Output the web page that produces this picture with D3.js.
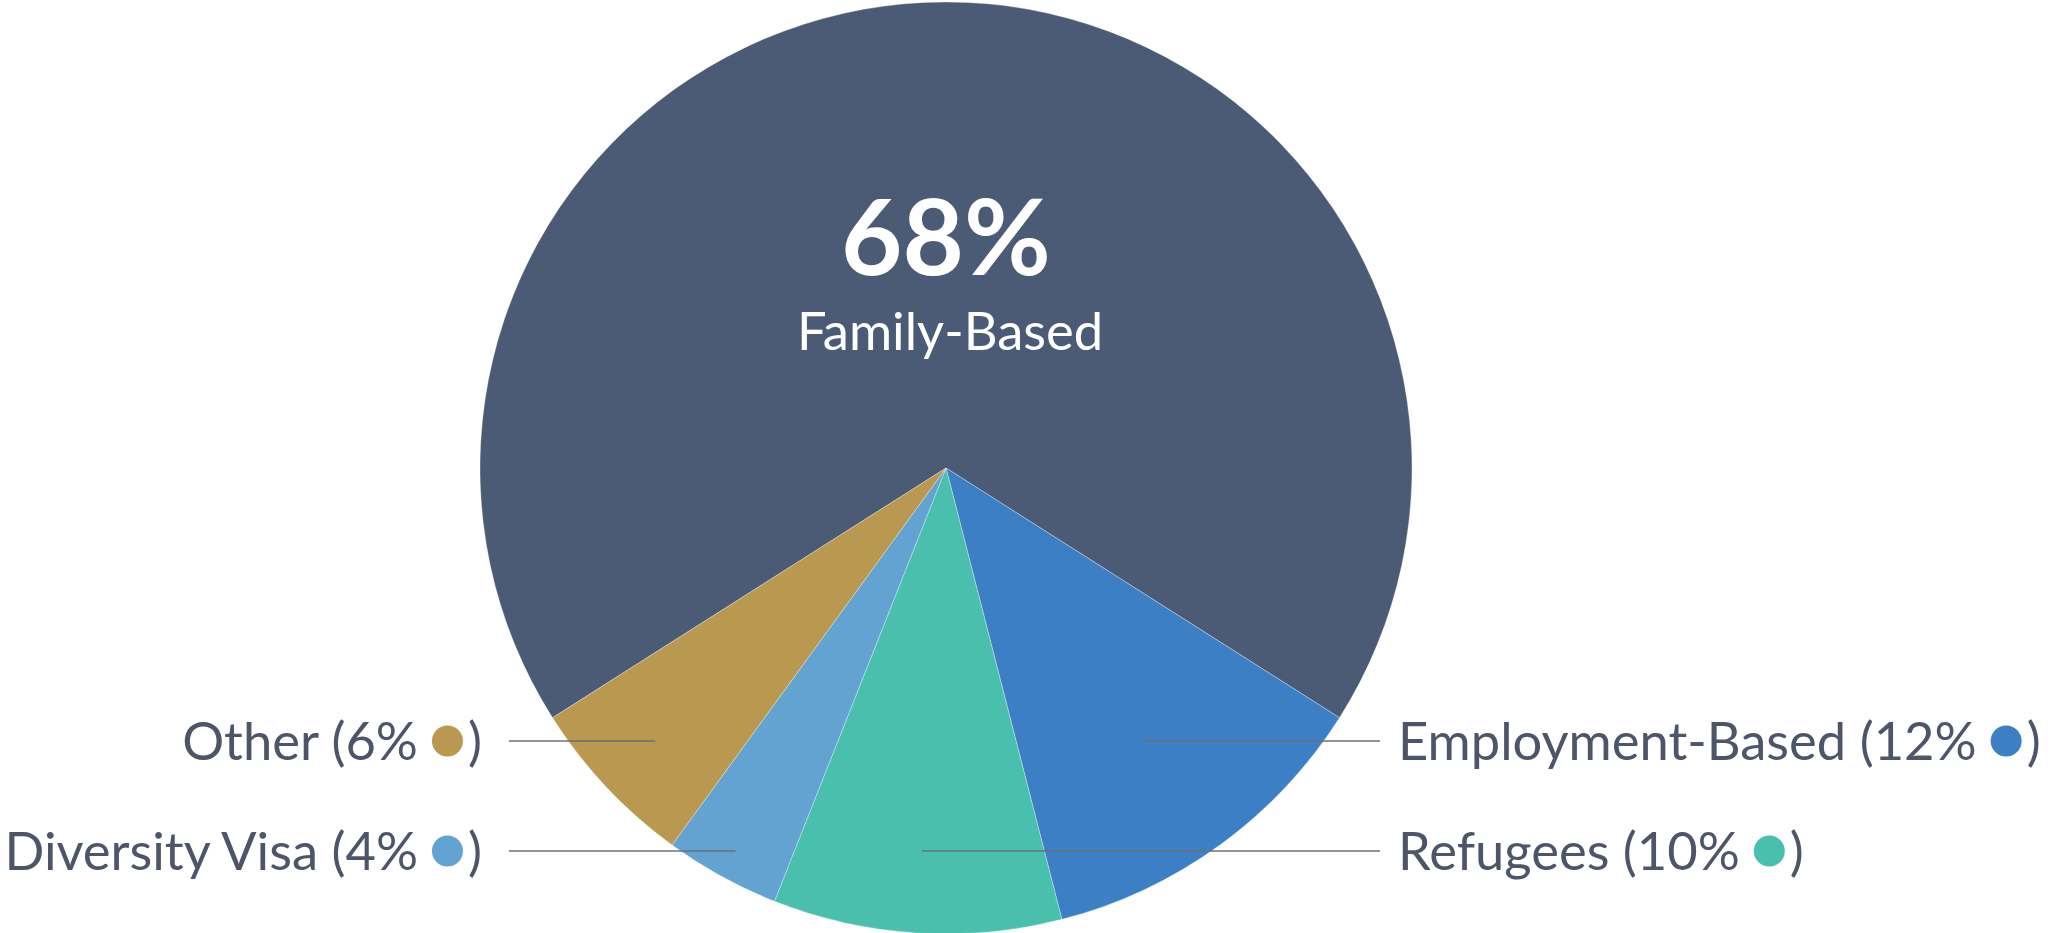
<!DOCTYPE html>
<html>
<head>
<meta charset="utf-8">
<script src="https://cdn.jsdelivr.net/npm/d3@7"></script>
<style>
  body { margin: 0; background: #fff; }
  svg { display: block; }
</style>
</head>
<body>
<div id="pie"></div>
<script>
// Data
var categories = ["Family-Based", "Employment-Based", "Refugees", "Diversity Visa", "Other"];
var shares = [68, 12, 10, 4, 6];
var colors = ["#4b5a75", "#3d7fc4", "#4bbfae", "#62a3d2", "#b8994f"];
// which side each outside label goes on (Family-Based sits inside the pie)
var labelSide = [null, "right", "right", "left", "left"];

var width = 2053,
    height = 933;

var cx = 946,
    cy = 468,
    radius = 466;

var rowY = [741, 851],
    leftEnd = 482,
    rightStart = 1398,
    lineLeftX = 509,
    lineRightX = 1380;

var textColor = "#4d5668";
var font = "Lato, 'Open Sans', sans-serif";
var labelSize = "52.5px";

var data = categories.map(function(c, i) {
  return {name: c, value: shares[i], color: colors[i], side: labelSide[i]};
});

var svg = d3.select("#pie")
            .append("svg")
              .attr("width", width)
              .attr("height", height);

var g = svg.append("g")
           .attr("transform", "translate(" + cx + "," + cy + ")");

// Family-Based is centred on the top of the circle
var start = -Math.PI * shares[0] / 100;
var pie = d3.pie()
            .sort(null)
            .value(function(d) { return d.value; })
            .startAngle(start)
            .endAngle(start + 2 * Math.PI);

var arc = d3.arc()
            .innerRadius(0)
            .outerRadius(radius);

var arcs = pie(data);

g.selectAll("path")
  .data(arcs)
  .enter()
  .append("path")
    .attr("d", arc)
    .attr("fill", function(d) { return d.data.color; })
    .attr("stroke", "rgba(255,255,255,0.3)")
    .attr("stroke-width", 1);

// Big label inside the main slice
g.append("text")
  .attr("x", 0)
  .attr("y", 275 - cy)
  .attr("text-anchor", "middle")
  .style("font-family", font)
  .style("font-weight", 700)
  .style("font-size", "106px")
  .attr("fill", "#fff")
  .text(shares[0] + "%");

g.append("text")
  .attr("x", 4)
  .attr("y", 350 - cy)
  .attr("text-anchor", "middle")
  .style("font-family", font)
  .style("font-size", labelSize)
  .attr("fill", "#fff")
  .text(categories[0]);

// Outside labels, two rows on each side
var rowCount = {left: 0, right: 0};
var labels = arcs.filter(function(d) { return d.data.side; });
// upper row for the slice closest to the horizontal
labels.sort(function(a, b) {
  var ma = Math.abs(Math.PI - (a.startAngle + a.endAngle) / 2);
  var mb = Math.abs(Math.PI - (b.startAngle + b.endAngle) / 2);
  return mb - ma;
});

labels.forEach(function(d) {
  var side = d.data.side;
  var y = rowY[rowCount[side]++];
  var mid = (d.startAngle + d.endAngle) / 2;
  // point on the slice's middle ray at the label height
  var dy = y - cy;
  var innerX = cx + Math.tan(Math.PI - mid) * dy;

  svg.append("line")
    .attr("x1", side == "left" ? lineLeftX : innerX)
    .attr("x2", side == "left" ? innerX : lineRightX)
    .attr("y1", y)
    .attr("y2", y)
    .attr("stroke", "#6b6f78")
    .attr("stroke-opacity", 0.75)
    .attr("stroke-width", 2.2);

  var lbl = svg.append("g")
    .style("font-family", font)
    .style("font-size", labelSize)
    .attr("fill", textColor);

  var t1 = lbl.append("text")
    .attr("y", y)
    .attr("dy", "0.36em")
    .text(d.data.name + " (" + d.data.value + "%");
  var dot = lbl.append("circle")
    .attr("cy", y)
    .attr("r", 15.5)
    .attr("fill", d.data.color);
  var t2 = lbl.append("text")
    .attr("y", y)
    .attr("dy", "0.36em")
    .text(")");

  var w1 = t1.node().getComputedTextLength(),
      w2 = t2.node().getComputedTextLength();
  var gap1 = 14, gap2 = 5, dotW = 31;
  var x0 = side == "left" ? leftEnd - (w1 + gap1 + dotW + gap2 + w2) : rightStart;
  t1.attr("x", x0);
  dot.attr("cx", x0 + w1 + gap1 + dotW / 2);
  t2.attr("x", x0 + w1 + gap1 + dotW + gap2);
});
</script>
</body>
</html>
